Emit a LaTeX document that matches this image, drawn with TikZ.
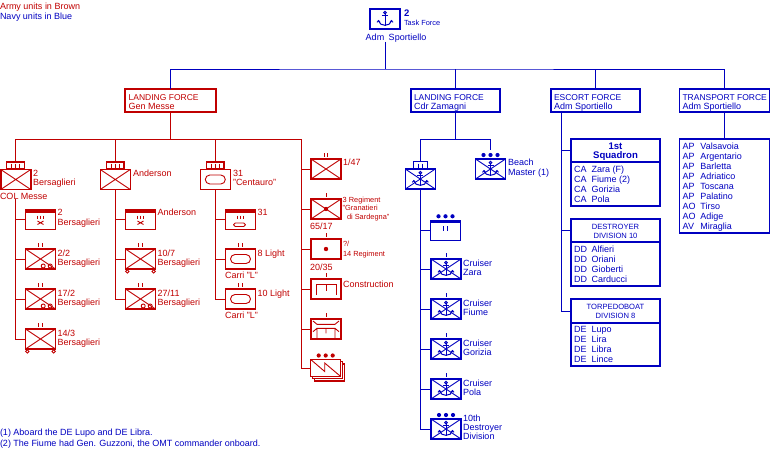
\documentclass[tikz,border=0pt]{standalone}
\usepackage{fontspec}
\setmainfont{Liberation Sans}
\usetikzlibrary{calc}
\definecolor{armyc}{RGB}{192,0,0}
\definecolor{navyc}{RGB}{0,0,192}
\newcommand\fn{\fontsize{9}{10}\selectfont}
\newcommand\fsm{\fontsize{7.4}{8}\selectfont}
\newcommand\fhd{\fontsize{8.5}{10}\selectfont}
\newcommand\fdv{\fontsize{7.6}{9}\selectfont}
\newcommand\fbd{\fontsize{9.6}{10}\selectfont\bfseries}
\newcommand\itm[2]{\makebox[17.7pt][l]{#1}#2}
\tikzset{
 txt/.style={anchor=base west, inner sep=0pt, outer sep=0pt, font=\fn},
 ctxt/.style={anchor=base, inner sep=0pt, outer sep=0pt, font=\fn},
 unit/.style={draw, rectangle, minimum width=30pt, minimum height=20pt, inner sep=0pt, outer sep=0pt, line width=1.3pt, fill=white},
 ech/.style={draw, rectangle, minimum width=17.5pt, minimum height=7pt, inner sep=0pt, outer sep=0pt, line width=1.3pt},
 nech/.style={draw, rectangle, minimum width=14.5pt, minimum height=7.5pt, inner sep=0pt, outer sep=0pt, line width=1.3pt},
 hbox/.style={draw, rectangle, inner sep=0pt, outer sep=0pt, line width=1.1pt},
 conn/.style={line width=1pt},
 symline/.style={line width=0.9pt},
 ar/.style={color=armyc},
 nv/.style={color=navyc},
}
\newcommand\ucross[1]{\draw[symline] (#1.north west) -- (#1.south east) (#1.north east) -- (#1.south west);}
\newcommand\uII[1]{\draw[symline] ($(#1.north)+(-1.7,-6)$) -- ++(0,4) ($(#1.north)+(1.7,-6)$) -- ++(0,4);}
\newcommand\uI[1]{\draw[symline] ($(#1.north)+(0,-6)$) -- ++(0,4);}
\newcommand\udots[1]{\fill ($(#1.north)+(-7,-4)$) circle[radius=2.1pt] ($(#1.north)+(0,-4)$) circle[radius=2.1pt] ($(#1.north)+(7,-4)$) circle[radius=2.1pt];}
\newcommand\uhqbar[1]{\fill (#1.north west) rectangle ([yshift=-3pt]#1.north east);}
\newcommand\uIIIin[1]{\draw[symline] ($(#1.north)+(-3,6)$) -- ++(0,3.5) ($(#1.north)+(0,6)$) -- ++(0,3.5) ($(#1.north)+(3,6)$) -- ++(0,3.5);}
\newcommand\uIIin[1]{\draw[symline] ($(#1.north)+(-2,6)$) -- ++(0,5) ($(#1.north)+(2,6)$) -- ++(0,5);}
\newcommand\usmallx[1]{\draw[symline] ($(#1.north)+(-3,11.5)$) -- ++(6,3.5) ($(#1.north)+(3,11.5)$) -- ++(-6,3.5);}
\newcommand\usmalloval[1]{\draw[symline,rounded corners=1.7pt] ($(#1.north)+(-7,13.5)$) rectangle ($(#1.north)+(5,17)$);}
\newcommand\uwheels[1]{\filldraw[symline,fill=white] ($(#1.south west)+(1.8,2.4)$) circle[radius=1.7pt] ($(#1.south east)+(-1.8,2.4)$) circle[radius=1.7pt];}
\newcommand\umoto[1]{\draw[symline] ($(#1.south east)+(-12.3,-3)$) circle[radius=2pt] ($(#1.south east)+(-5.3,-3)$) circle[radius=2pt];}
\newcommand\uoval[1]{\draw[symline,rounded corners=4.5pt] ($(#1.center)+(-10,-4.5)$) rectangle ($(#1.center)+(10,4.5)$);}
\newcommand\udot[1]{\fill (#1.center) circle[radius=2.2pt];}
\newcommand\uechIII[1]{\draw[symline] ($(#1.center)+(-4,-2)$) -- ++(0,4) ($(#1.center)+(0,-2)$) -- ++(0,4) ($(#1.center)+(4,-2)$) -- ++(0,4);}
\newcommand\uechII[1]{\draw[symline] ($(#1.center)+(-2,-2)$) -- ++(0,4) ($(#1.center)+(2,-2)$) -- ++(0,4);}
\newcommand\uanchor[1]{%
 \begin{scope}[shift={(#1.center)}, line width=1pt]
  \draw (0,-6.3) circle[radius=1.3pt];
  \draw (0,-5) -- (0,7.3);
  \draw (-3,-3.3) -- (3,-3.3);
  \draw (-6.5,1.8) .. controls (-5.5,7.8) and (5.5,7.8) .. (6.5,1.8);
  \draw (-8,3.3) -- (-6.5,1.6) -- (-5,3.3);
  \draw (8,3.3) -- (6.5,1.6) -- (5,3.3);
 \end{scope}}
\begin{document}
\begin{tikzpicture}[x=1pt,y=-1pt]
\useasboundingbox (0,0) rectangle (770,450);

% legend
\node[txt,ar] (leg1) at (0,9) {Army units in Brown};
\node[txt,nv] (leg2) at (0,19) {Navy units in Blue};

% ---------------- ARMY ----------------
\begin{scope}[ar]
\node[hbox,minimum width=91pt,minimum height=23pt] (lfA) at (170.5,100.5) {};
\node[txt,font=\fhd] (lfAt1) at (128.7,100) {LANDING FORCE};
\node[txt] (lfAt2) at (128.7,109.5) {Gen Messe};

% top row
\node[ech] (u1e) at (15.5,165.5) {}; \uechIII{u1e}
\node[unit,line width=1.6pt] (u1) at (15.7,179.5) {}; \ucross{u1}
\node[txt] (u1t1) at (33,176) {2};
\node[txt] (u1t2) at (33,185) {Bersaglieri};
\node[txt] (u1cmd) at (0,199) {COL Messe};

\node[ech] (u2e) at (115.3,165.5) {}; \uechIII{u2e}
\node[unit] (u2) at (115.3,179.5) {}; \ucross{u2}
\node[txt] (u2t1) at (133,176) {Anderson};

\node[ech] (u3e) at (215.3,165.5) {}; \uechIII{u3e}
\node[unit] (u3) at (215.3,179.5) {}; \uoval{u3}
\node[txt] (u3t1) at (233,176) {31};
\node[txt] (u3t2) at (233,185) {"Centauro"};

% column 1
\node[unit] (c1a) at (40.5,219.5) {}; \uhqbar{c1a}\uIIIin{c1a}\usmallx{c1a}
\node[txt] (c1at1) at (57.7,215) {2};
\node[txt] (c1at2) at (57.7,225) {Bersaglieri};
\node[unit] (c1b) at (40.5,259) {}; \ucross{c1b}\umoto{c1b}\uII{c1b}
\node[txt] (c1bt1) at (57.7,256) {2/2};
\node[txt] (c1bt2) at (57.7,265) {Bersaglieri};
\node[unit] (c1c) at (40.5,299) {}; \ucross{c1c}\umoto{c1c}\uII{c1c}
\node[txt] (c1ct1) at (57.7,296) {17/2};
\node[txt] (c1ct2) at (57.7,305) {Bersaglieri};
\node[unit] (c1d) at (40.5,339) {}; \ucross{c1d}\uwheels{c1d}\uII{c1d}
\node[txt] (c1dt1) at (57.7,336) {14/3};
\node[txt] (c1dt2) at (57.7,345) {Bersaglieri};

% column 2
\node[unit] (c2a) at (140.5,219.5) {}; \uhqbar{c2a}\uIIIin{c2a}\usmallx{c2a}
\node[txt] (c2at1) at (157.7,215.5) {Anderson};
\node[unit] (c2b) at (140.5,259) {}; \ucross{c2b}\uwheels{c2b}\uII{c2b}
\node[txt] (c2bt1) at (157.7,256) {10/7};
\node[txt] (c2bt2) at (157.7,265) {Bersaglieri};
\node[unit] (c2c) at (140.5,299) {}; \ucross{c2c}\umoto{c2c}\uII{c2c}
\node[txt] (c2ct1) at (157.7,296) {27/11};
\node[txt] (c2ct2) at (157.7,305) {Bersaglieri};

% column 3
\node[unit] (c3a) at (240.5,219.5) {}; \uhqbar{c3a}\uIIIin{c3a}\usmalloval{c3a}
\node[txt] (c3at1) at (257.7,215.7) {31};
\node[unit] (c3b) at (240.5,259) {}; \uoval{c3b}\uII{c3b}
\node[txt] (c3bt1) at (257.7,256.7) {8 Light};
\node[txt] (c3bt2) at (225,278.5) {Carri "L"};
\node[unit] (c3c) at (240.5,299) {}; \uoval{c3c}\uII{c3c}
\node[txt] (c3ct1) at (257.7,296.7) {10 Light};
\node[txt] (c3ct2) at (225,318.5) {Carri "L"};

% column 4
\node[unit] (c4a) at (326,169) {}; \ucross{c4a}\uII{c4a}
\node[txt] (c4at1) at (343,165.5) {1/47};
\node[unit] (c4b) at (326,209) {}; \ucross{c4b}\udot{c4b}\uI{c4b}
\node[txt,font=\fsm] (c4bt1) at (342.7,202.5) {3 Regiment};
\node[txt,font=\fsm] (c4bt2) at (342.7,210.7) {"Granatieri};
\node[txt,font=\fsm] (c4bt3) at (347,219.5) {di Sardegna"};
\node[txt] (c4bt4) at (310,229.5) {65/17};
\node[unit] (c4c) at (326,249) {}; \udot{c4c}\uI{c4c}
\node[txt,font=\fsm] (c4ct1) at (343,246) {?/};
\node[txt,font=\fsm] (c4ct2) at (343,256.5) {14 Regiment};
\node[txt] (c4ct3) at (310,270) {20/35};
\node[unit] (c4d) at (326,289) {}; \uI{c4d}
\draw[symline] ($(c4d.center)+(-10,6)$) -- ++(0,-10.3) -- ++(20,0) -- ++(0,10.3)
               ($(c4d.center)+(0,-4.3)$) -- ++(0,5.8);
\node[txt] (c4dt1) at (343,287) {Construction};
\node[unit] (c4e) at (326,329) {}; \uI{c4e}
\draw[symline] ($(c4e.center)+(-13,-8)$) -- ++(4,3.3) -- ++(18,0) -- ++(4,-3.3)
               ($(c4e.center)+(-13,2.7)$) -- ++(4,-3.4) -- ++(18,0) -- ++(4,3.4)
               ($(c4e.center)+(-9,-0.7)$) -- ++(0,10)
               ($(c4e.center)+(9,-0.7)$) -- ++(0,10)
               ($(c4e.center)+(0,-0.7)$) -- ++(0,5);
\node[unit,minimum height=17pt] (c4f3) at (329.7,372.5) {};
\node[unit,minimum height=17pt] (c4f2) at (327.7,370.2) {};
\node[unit,minimum height=17pt] (c4f) at (325.7,368) {};
\udots{c4f}
\draw[symline] (c4f.north west) -- ($(c4f.center)+(-1,3.5)$) -- ($(c4f.center)+(-1,-5)$) -- (c4f.south east);

% army connectors
\coordinate (abus) at (170.5,139);
\coordinate (c4top) at (301,139);
\draw[conn] (lfA.south) -- (abus);
\draw[conn] (u1e.north) |- (c4top) -- (c4top |- c4f.west) -- (c4f.west);
\foreach \n in {c4a,c4b,c4c,c4d,c4e} \draw[conn] (c4top |- \n.west) -- (\n.west);
\draw[conn] (u2e.north) -- (u2e.north |- abus);
\draw[conn] (u3e.north) -- (u3e.north |- abus);
\draw[conn] (u1.south |- u1cmd.south) |- (c1d.west);
\foreach \n in {c1a,c1b,c1c} \draw[conn] (u1.south |- \n.west) -- (\n.west);
\draw[conn] (u2.south) |- (c2c.west);
\foreach \n in {c2a,c2b} \draw[conn] (u2.south |- \n.west) -- (\n.west);
\draw[conn] (u3.south) |- (c3c.west);
\foreach \n in {c3a,c3b} \draw[conn] (u3.south |- \n.west) -- (\n.west);
\end{scope}

% ---------------- NAVY ----------------
\begin{scope}[nv]
\node[unit,line width=1.1pt] (tf) at (385,19) {};
\uanchor{tf}
\node[txt,font=\fontsize{9.5}{10}\selectfont\bfseries] (tfn) at (404,16) {2};
\node[txt,font=\fsm] (tfl) at (404,25) {Task Force};
\node[ctxt] (tfc) at (396,40) {Adm\hspace{2pt} Sportiello};
\coordinate (topbus) at (386,69);

\node[hbox,minimum width=89pt,minimum height=23pt] (lfN) at (455.5,100.5) {};
\node[txt,font=\fhd] (lfNt1) at (414,100) {LANDING FORCE};
\node[txt] (lfNt2) at (414,109.5) {Cdr Zamagni};

\node[hbox,minimum width=89pt,minimum height=23pt] (esc) at (595.5,100.5) {};
\node[txt,font=\fhd] (esct1) at (554,100) {ESCORT FORCE};
\node[txt] (esct2) at (554,109.5) {Adm Sportiello};

\node[hbox,minimum width=90pt,minimum height=23pt] (tpF) at (724.25,100.5) {};
\node[txt,font=\fhd] (tpFt1) at (682.5,100) {TRANSPORT FORCE};
\node[txt] (tpFt2) at (682.5,109.5) {Adm Sportiello};

\node[hbox,minimum width=90pt,minimum height=94pt] (tpL) at (724.25,186) {};
\foreach \t [count=\i] in {\itm{AP}{Valsavoia},\itm{AP}{Argentario},\itm{AP}{Barletta},\itm{AP}{Adriatico},\itm{AP}{Toscana},\itm{AP}{Palatino},\itm{AO}{Tirso},\itm{AO}{Adige},\itm{AV}{Miraglia}}
  \node[txt] (tp\i) at (682.7,139.3+10*\i) {\t};

% escort squadrons
\node[hbox,minimum width=89pt,minimum height=23pt] (sq1h) at (615.5,150.5) {};
\node[hbox,minimum width=89pt,minimum height=44pt] (sq1b) at (615.5,184) {};
\node[ctxt,font=\fbd] (sq1t1) at (615.5,149.5) {1st};
\node[ctxt,font=\fbd] (sq1t2) at (615.5,158.5) {Squadron};
\foreach \t [count=\i] in {\itm{CA}{Zara (F)},\itm{CA}{Fiume (2)},\itm{CA}{Gorizia},\itm{CA}{Pola}}
  \node[txt] (sq\i) at (574,162.5+10*\i) {\t};

\node[hbox,minimum width=89pt,minimum height=23pt] (ddh) at (615.5,230.5) {};
\node[hbox,minimum width=89pt,minimum height=44pt] (ddb) at (615.5,264) {};
\node[ctxt,font=\fdv] (ddt1) at (615.5,229.5) {DESTROYER};
\node[ctxt,font=\fdv] (ddt2) at (615.5,238.5) {DIVISION 10};
\foreach \t [count=\i] in {\itm{DD}{Alfieri},\itm{DD}{Oriani},\itm{DD}{Gioberti},\itm{DD}{Carducci}}
  \node[txt] (dd\i) at (574,242.7+10*\i) {\t};

\node[hbox,minimum width=89pt,minimum height=24pt] (tbh) at (615.5,311) {};
\node[hbox,minimum width=89pt,minimum height=43pt] (tbb) at (615.5,344.5) {};
\node[ctxt,font=\fdv] (tbt1) at (615.5,309.5) {TORPEDOBOAT};
\node[ctxt,font=\fdv] (tbt2) at (615.5,318.5) {DIVISION 8};
\foreach \t [count=\i] in {\itm{DE}{Lupo},\itm{DE}{Lira},\itm{DE}{Libra},\itm{DE}{Lince}}
  \node[txt] (de\i) at (574,322.7+10*\i) {\t};
\coordinate (escdrop) at (561,112);

% landing force navy units
\node[nech] (nAe) at (420.5,165.5) {};
\uechII{nAe}
\node[unit] (nA) at (420.3,179) {};
\ucross{nA}\uanchor{nA}

\node[unit] (nB) at (490.5,169) {};
\ucross{nB}\uanchor{nB}\udots{nB}
\node[txt] (nBt1) at (508,165.7) {Beach};
\node[txt] (nBt2) at (508,175) {Master (1)};

\node[unit] (nC) at (445.5,230.3) {};
\uhqbar{nC}\uIIin{nC}\udots{nC}

\node[unit] (nD) at (446,269) {};
\ucross{nD}\uanchor{nD}\uI{nD}
\node[txt] (nDt1) at (463,266) {Cruiser};
\node[txt] (nDt2) at (463,275.5) {Zara};
\node[unit] (nE) at (446,309) {};
\ucross{nE}\uanchor{nE}\uI{nE}
\node[txt] (nEt1) at (463,306) {Cruiser};
\node[txt] (nEt2) at (463,315.5) {Fiume};
\node[unit] (nF) at (446,349) {};
\ucross{nF}\uanchor{nF}\uI{nF}
\node[txt] (nFt1) at (463,346) {Cruiser};
\node[txt] (nFt2) at (463,355.5) {Gorizia};
\node[unit] (nG) at (446,389) {};
\ucross{nG}\uanchor{nG}\uI{nG}
\node[txt] (nGt1) at (463,386) {Cruiser};
\node[txt] (nGt2) at (463,395.5) {Pola};
\node[unit] (nH) at (446,429) {};
\ucross{nH}\uanchor{nH}\udots{nH}
\node[txt] (nHt1) at (463,421.5) {10th};
\node[txt] (nHt2) at (463,430.5) {Destroyer};
\node[txt] (nHt3) at (463,439.5) {Division};

\coordinate (nbus) at (455.5,139);
\coordinate (nBtop) at (490.5,150);

% navy connectors
\draw[conn] (tfc.south -| tf.south) -- (tf.south |- topbus);
\draw[conn] (lfA.north) |- (topbus) -| (tpF.north);
\draw[conn] (lfN.north) -- (lfN.north |- topbus);
\draw[conn] (esc.north) -- (esc.north |- topbus);
\draw[conn] (tpF.south) -- (tpL.north);
\draw[conn] (escdrop) |- (tbh.west);
\draw[conn] (escdrop |- sq1h.west) -- (sq1h.west);
\draw[conn] (escdrop |- ddh.west) -- (ddh.west);
\draw[conn] (lfN.south) -- (nbus);
\draw[conn] (nAe.north) -- (nAe.north |- nbus) -- (nBtop |- nbus) -- (nBtop);
\draw[conn] (nA.south) |- (nH.west);
\foreach \n in {nC,nD,nE,nF,nG} \draw[conn] (nA.south |- \n.west) -- (\n.west);
\end{scope}

% footnotes
\node[txt,nv] (fn1) at (0,435.5) {(1) Aboard the DE Lupo and DE Libra.};
\node[txt,nv] (fn2) at (0,446) {(2) The Fiume had Gen. Guzzoni, the OMT commander onboard.};
\end{tikzpicture}
\end{document}
